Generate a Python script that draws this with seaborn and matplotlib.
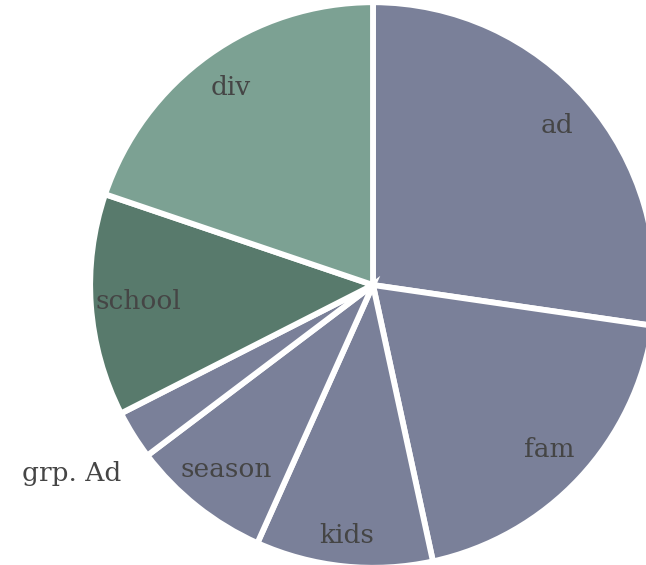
import seaborn as sns
import numpy as np
import matplotlib.pyplot as plt

sns.set_theme(style="white")
plt.rcParams['font.family'] = ['DejaVu Serif']

labels = ['ad', 'fam', 'kids', 'season', 'grp. Ad', 'school', 'div']
shares = [27.3, 19.3, 10.1, 8.0, 2.8, 12.7, 19.8]
colors = ['#7a8099', '#7a8099', '#7a8099', '#7a8099', '#7a8099', '#587a6c', '#7ca193']
label_r = [0.87, 0.86, 0.90, 0.84, 1.27, 0.84, 0.87]

fig = plt.figure(figsize=(6.46, 5.65), dpi=100)
ax = fig.add_axes([0, 0, 1, 1])

wedges, _ = ax.pie(shares, colors=colors, startangle=90, counterclock=False,
                   radius=1.01,
                   wedgeprops=dict(edgecolor='white', linewidth=4.2))

# labels at the middle of each wedge
for w, lab, r in zip(wedges, labels, label_r):
    mid = np.deg2rad((w.theta1 + w.theta2) / 2)
    ax.text(r * np.cos(mid), r * np.sin(mid), lab, ha='center', va='center',
            fontsize=19, color='#454545')

ax.set_xlim(-1.332, 0.975)
ax.set_ylim(-1.0, 1.018)
ax.set_aspect('auto')
ax.axis('off')

fig.savefig('out.png', dpi=100)
